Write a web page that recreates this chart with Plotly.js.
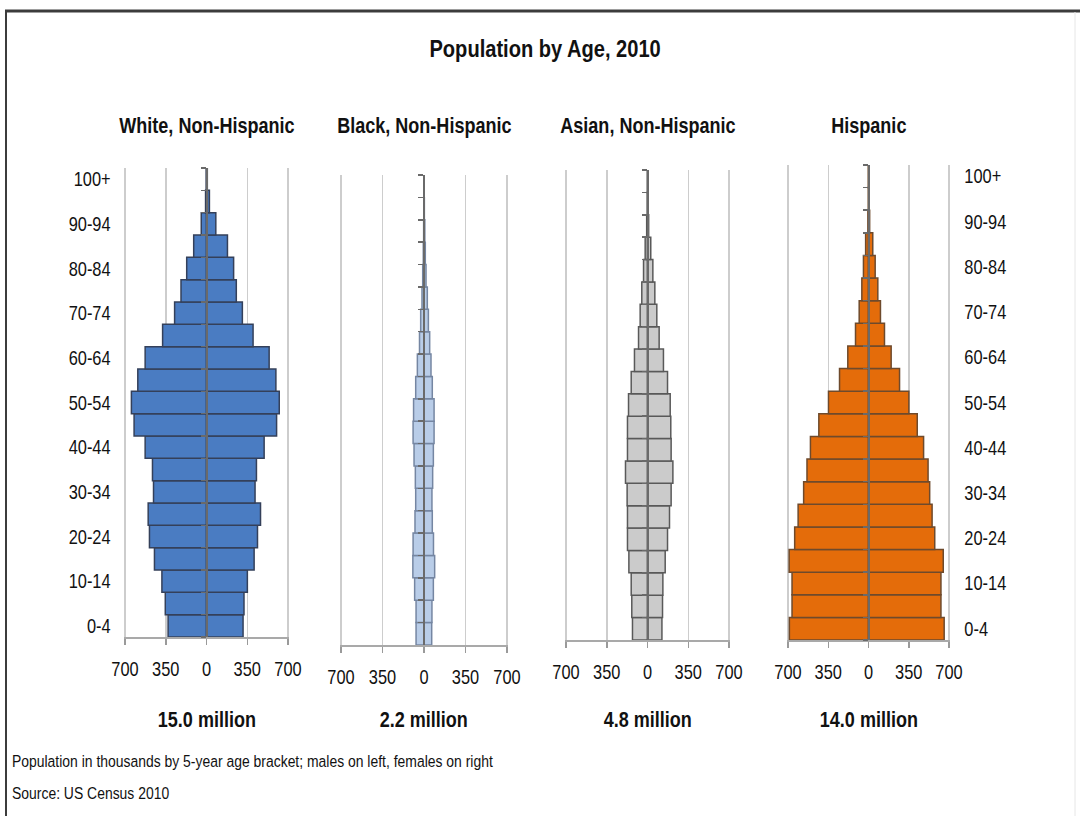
<!DOCTYPE html>
<html>
<head>
<meta charset="utf-8">
<script src="https://cdn.plot.ly/plotly-3.0.1.min.js"></script>
<style>
  html, body { margin: 0; padding: 0; background: #fff; }
  #chart { width: 1080px; height: 816px; }
</style>
</head>
<body>
<div id="chart"></div>
<script>
// California population by age bracket, 2010 (thousands), youngest first
const AGES = ['0-4', '5-9', '10-14', '15-19', '20-24', '25-29', '30-34', '35-39', '40-44',
  '45-49', '50-54', '55-59', '60-64', '65-69', '70-74', '75-79', '80-84', '85-89',
  '90-94', '95-99', '100+'];

const WHITE_MALE = [330, 354, 383, 447, 490, 501, 455, 464, 527, 622, 645, 590, 527, 377, 274, 219, 170, 110, 45, 8, 2];
const WHITE_FEMALE = [314, 322, 351, 409, 438, 464, 417, 429, 495, 602, 625, 596, 538, 400, 308, 256, 233, 180, 80, 25, 7];

const BLACK_MALE = [67, 67, 79, 94, 92, 76, 70, 73, 84, 92, 88, 70, 56, 38, 28, 17, 11, 6, 3, 1, 1];
const BLACK_FEMALE = [65, 67, 79, 90, 80, 70, 67, 73, 79, 85, 85, 70, 59, 48, 37, 28, 17, 11, 7, 3, 1];

const ASIAN_MALE = [129, 135, 140, 160, 172, 172, 175, 189, 172, 172, 163, 140, 112, 77, 63, 49, 34, 20, 7, 2, 1];
const ASIAN_FEMALE = [124, 129, 132, 152, 172, 189, 203, 218, 203, 200, 195, 172, 137, 100, 80, 63, 46, 28, 10, 4, 2];

const HISP_MALE = [688, 665, 665, 690, 642, 612, 564, 535, 505, 432, 348, 252, 180, 113, 81, 58, 44, 25, 5, 1, 1];
const HISP_FEMALE = [658, 630, 630, 650, 576, 553, 532, 518, 479, 424, 351, 270, 197, 139, 104, 81, 58, 37, 10, 3, 2];

const GROUPS = ['White, Non-Hispanic', 'Black, Non-Hispanic', 'Asian, Non-Hispanic', 'Hispanic'];
const X_TICKS = [-700, -350, 0, 350, 700];
const X_TICK_TEXT = ['700', '350', '0', '350', '700'];

const TITLE = 'Population by Age, 2010';
const NOTE = 'Population in thousands by 5-year age bracket; males on left, females on right';
const SOURCE = 'Source: US Census 2010';

const W = 1080, H = 816;
const FONT = "'Liberation Sans', Arial, sans-serif";
const NARROW = 0.82;          // horizontal squeeze giving a narrow-face look
const X_LIMIT = 712;          // a little past the outer gridlines so they stay drawn
const px = v => v / W;
const py = v => 1 - v / H;

// panel frames in page pixels (left/right = the +/-700 gridlines) and styling
const panels = [
  { male: WHITE_MALE, female: WHITE_FEMALE, left: 125, right: 288, top: 168, bottom: 637,
    fill: '#4a7cc2', edge: '#34405a', labels: 'left' },
  { male: BLACK_MALE, female: BLACK_FEMALE, left: 341, right: 507, top: 175, bottom: 645,
    fill: '#b9cde8', edge: '#7586a2', labels: null },
  { male: ASIAN_MALE, female: ASIAN_FEMALE, left: 566, right: 729, top: 170, bottom: 640,
    fill: '#cbcbcb', edge: '#595959', labels: null },
  { male: HISP_MALE, female: HISP_FEMALE, left: 788, right: 949, top: 165, bottom: 640,
    fill: '#e46c0a', edge: '#6e4a2c', labels: 'right' }
];

const sum = arr => arr.reduce((a, b) => a + b, 0);
const shownAges = AGES.filter((_, i) => i % 2 === 0);

const traces = [];
const layout = {
  width: W, height: H,
  margin: { l: 0, r: 0, t: 0, b: 0 },
  paper_bgcolor: '#ffffff',
  plot_bgcolor: 'rgba(0,0,0,0)',
  showlegend: false,
  barmode: 'overlay',
  bargap: 0,
  font: { family: FONT, color: '#111', size: 20 },
  annotations: [],
  shapes: []
};

let extraAxis = 5;
panels.forEach((p, k) => {
  const n = k + 1;
  const xa = n === 1 ? 'x' : 'x' + n;
  const ya = n === 1 ? 'y' : 'y' + n;
  const marker = { color: p.fill, line: { color: p.edge, width: 1.5 } };
  const mid = (p.left + p.right) / 2;
  const half = (p.right - p.left) / 2 * X_LIMIT / 700;

  // females go on a label-carrying overlay axis where the panel has age labels
  let yFemale = ya;
  if (p.labels) {
    const id = extraAxis++;
    yFemale = 'y' + id;
    layout['yaxis' + id] = {
      overlaying: ya, side: p.labels, anchor: xa,
      type: 'category', categoryorder: 'array', categoryarray: AGES,
      range: [-0.5, AGES.length - 0.5],
      tickvals: shownAges, ticktext: shownAges,
      tickfont: { family: FONT, size: 20, color: '#111' },
      showgrid: false, zeroline: false, showline: false,
      ticks: 'outside', ticklen: p.labels === 'left' ? 8 : 9, tickcolor: 'rgba(0,0,0,0)',
      fixedrange: true
    };
  }

  traces.push({
    type: 'bar', orientation: 'h', name: 'Males',
    x: p.male.map(v => -v), y: AGES,
    xaxis: xa, yaxis: ya, marker: marker, hoverinfo: 'skip'
  });
  traces.push({
    type: 'bar', orientation: 'h', name: 'Females',
    x: p.female, y: AGES,
    xaxis: xa, yaxis: yFemale, marker: marker, hoverinfo: 'skip'
  });

  layout['xaxis' + (n === 1 ? '' : n)] = {
    domain: [px(mid - half), px(mid + half)],
    anchor: ya,
    range: [-X_LIMIT, X_LIMIT],
    tickvals: X_TICKS, ticktext: X_TICK_TEXT,
    tickfont: { family: FONT, size: 20, color: '#111' },
    showgrid: true, gridcolor: '#cdcdcd', gridwidth: 1.5,
    zeroline: false,
    showline: true, linecolor: '#a9a9a9', linewidth: 2,
    ticks: 'outside', ticklen: 6, tickwidth: 1.5, tickcolor: '#9a9a9a',
    ticklabelstandoff: 7,
    fixedrange: true
  };

  // centre axis: vertical line at zero with a tick at every bracket boundary
  layout['yaxis' + (n === 1 ? '' : n)] = {
    domain: [py(p.bottom), py(p.top)],
    anchor: 'free',
    position: px(mid),
    type: 'category',
    categoryorder: 'array', categoryarray: AGES,
    range: [-0.5, AGES.length - 0.5],
    tickson: 'boundaries',
    showticklabels: false,
    showgrid: false, zeroline: false,
    showline: true, linecolor: '#6a6a6a', linewidth: 2,
    ticks: 'outside', ticklen: 5, tickwidth: 1.5, tickcolor: '#6a6a6a',
    fixedrange: true
  };

  layout.annotations.push({
    xref: 'paper', yref: 'paper',
    x: px(mid), y: py(125),
    text: '<b>' + GROUPS[k] + '</b>',
    showarrow: false, xanchor: 'center', yanchor: 'middle',
    font: { family: FONT, size: 22, color: '#111' }
  });
  const total = (sum(p.male) + sum(p.female)) / 1000;
  layout.annotations.push({
    xref: 'paper', yref: 'paper',
    x: px(mid), y: py(719),
    text: '<b>' + total.toFixed(1) + ' million</b>',
    showarrow: false, xanchor: 'center', yanchor: 'middle',
    font: { family: FONT, size: 22, color: '#111' }
  });
});

layout.annotations.push({
  xref: 'paper', yref: 'paper', x: px(545), y: py(48),
  text: '<b>' + TITLE + '</b>', showarrow: false,
  xanchor: 'center', yanchor: 'middle',
  font: { family: FONT, size: 24.5, color: '#111' }
});
layout.annotations.push({
  xref: 'paper', yref: 'paper', x: px(10), y: py(761),
  text: NOTE, showarrow: false, xanchor: 'left', yanchor: 'middle', align: 'left',
  font: { family: FONT, size: 17, color: '#111' }
});
layout.annotations.push({
  xref: 'paper', yref: 'paper', x: px(10), y: py(793),
  text: SOURCE, showarrow: false, xanchor: 'left', yanchor: 'middle', align: 'left',
  font: { family: FONT, size: 17, color: '#111' }
});

// frame around the figure
layout.shapes.push({
  type: 'line', xref: 'paper', yref: 'paper',
  x0: px(5), x1: 1, y0: py(11), y1: py(11),
  line: { color: '#3c3c3c', width: 3 }
});
layout.shapes.push({
  type: 'line', xref: 'paper', yref: 'paper',
  x0: px(6), x1: px(6), y0: py(10), y1: 0,
  line: { color: '#3c3c3c', width: 2 }
});
layout.shapes.push({
  type: 'line', xref: 'paper', yref: 'paper',
  x0: px(1075), x1: px(1075), y0: py(12), y1: 0,
  line: { color: '#e6e6e6', width: 1 }
});

// squeeze every text run horizontally about its own anchor point
function condenseText(gd) {
  gd.querySelectorAll('svg text').forEach(t => {
    const x = parseFloat(t.getAttribute('x')) || 0;
    const prev = t.getAttribute('transform') || '';
    t.setAttribute('transform',
      prev + ' translate(' + x + ',0) scale(' + NARROW + ',1) translate(' + (-x) + ',0)');
  });
}

Plotly.newPlot('chart', traces, layout, { staticPlot: true, displayModeBar: false })
  .then(condenseText);
</script>
</body>
</html>
